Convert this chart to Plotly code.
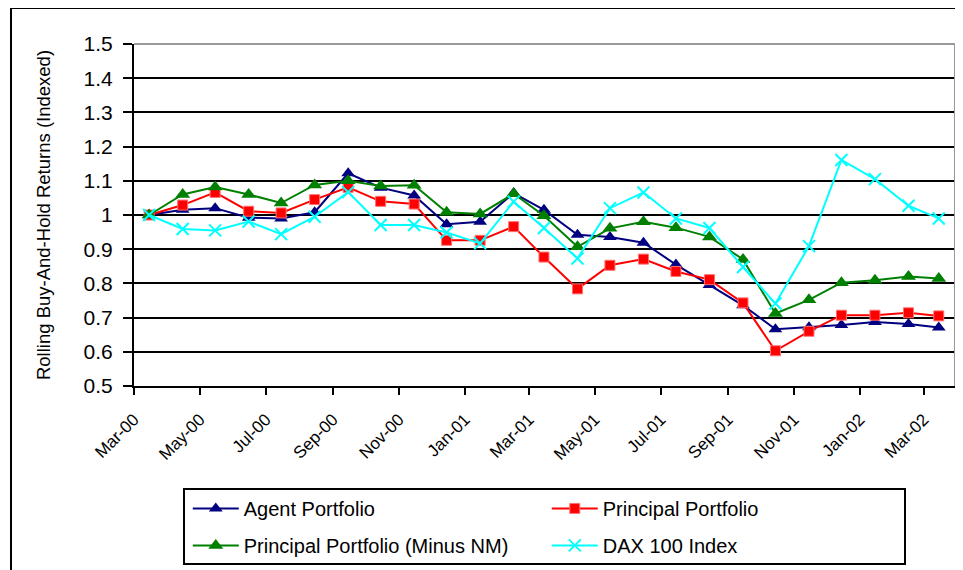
import pandas as pd
import plotly.graph_objects as go

# Monthly observations, Mar-2000 .. Mar-2002 (mid-month)
dates = pd.date_range("2000-03-01", periods=25, freq="MS") + pd.Timedelta(days=14)

agent = [1.000, 1.015, 1.020, 0.992, 0.990, 1.008, 1.122, 1.080, 1.057, 0.973,
         0.980, 1.064, 1.015, 0.942, 0.936, 0.919, 0.855, 0.795, 0.736, 0.666,
         0.672, 0.678, 0.687, 0.681, 0.671]
principal = [1.000, 1.029, 1.066, 1.011, 1.006, 1.045, 1.081, 1.040, 1.032, 0.926,
             0.926, 0.966, 0.877, 0.784, 0.853, 0.871, 0.835, 0.811, 0.743, 0.603,
             0.660, 0.707, 0.707, 0.714, 0.705]
minus_nm = [1.000, 1.060, 1.082, 1.060, 1.035, 1.088, 1.100, 1.085, 1.087, 1.008,
            1.003, 1.062, 0.998, 0.907, 0.961, 0.980, 0.963, 0.936, 0.870, 0.712,
            0.752, 0.802, 0.809, 0.820, 0.814]
dax = [1.000, 0.959, 0.955, 0.981, 0.944, 0.995, 1.067, 0.971, 0.971, 0.949,
       0.917, 1.039, 0.962, 0.873, 1.020, 1.066, 0.990, 0.962, 0.848, 0.741,
       0.909, 1.161, 1.105, 1.027, 0.990]

y_ticks = [0.5, 0.6, 0.7, 0.8, 0.9, 1.0, 1.1, 1.2, 1.3, 1.4, 1.5]
y_labels = ["0.5", "0.6", "0.7", "0.8", "0.9", "1", "1.1", "1.2", "1.3", "1.4", "1.5"]

FONT = "Liberation Sans, Arial, sans-serif"

fig = go.Figure()
# row 1 of legend
fig.add_trace(go.Scatter(x=dates, y=agent, name="Agent Portfolio", mode="lines+markers",
                         line=dict(color="#000080", width=2),
                         marker=dict(symbol="triangle-up", size=12, color="#000080"),
                         legend="legend"))
fig.add_trace(go.Scatter(x=dates, y=principal, name="Principal Portfolio", mode="lines+markers",
                         line=dict(color="#FF0000", width=2),
                         marker=dict(symbol="square", size=10, color="#FF0000",
                                     line=dict(color="#FF7070", width=1)),
                         legend="legend"))
# row 2 of legend
fig.add_trace(go.Scatter(x=dates, y=minus_nm, name="Principal Portfolio (Minus NM)",
                         mode="lines+markers", line=dict(color="#008000", width=2),
                         marker=dict(symbol="triangle-up", size=13, color="#008000"),
                         legend="legend2"))
fig.add_trace(go.Scatter(x=dates, y=dax, name="DAX 100 Index", mode="lines+markers",
                         line=dict(color="#00FFFF", width=2),
                         marker=dict(symbol="x-thin-open", size=12,
                                     line=dict(color="#00FFFF", width=2)),
                         legend="legend2"))

leg_common = dict(orientation="h", xanchor="left", yanchor="top",
                  font=dict(family=FONT, size=20, color="black"),
                  entrywidth=298, entrywidthmode="pixels", itemwidth=46,
                  bgcolor="rgba(0,0,0,0)", traceorder="normal")

# page body has an 8px margin, so the figure is sized to the visible area
fig.update_layout(
    width=955, height=562,
    margin=dict(l=126, r=8, t=36, b=184, autoexpand=False),
    paper_bgcolor="white", plot_bgcolor="white",
    font=dict(family=FONT, color="black"),
    showlegend=True,
    legend=dict(x=0.0655, y=-0.301, **leg_common),
    legend2=dict(x=0.0655, y=-0.409, **leg_common),
    shapes=[
        # outer chart frame
        dict(type="rect", xref="paper", yref="paper", x0=-0.1498, x1=1.06, y0=-0.7, y1=1.105,
             line=dict(color="black", width=2), layer="below"),
        # legend box
        dict(type="rect", xref="paper", yref="paper", x0=(184 - 134) / 821, x1=(905 - 134) / 821,
             y0=(386 - 564) / 342, y1=(386 - 489) / 342,
             line=dict(color="black", width=2), fillcolor="rgba(0,0,0,0)", layer="above"),
        # grey plot-area border (top and right)
        dict(type="line", xref="paper", yref="paper", x0=0, x1=1, y0=1, y1=1,
             line=dict(color="#999999", width=2), layer="above"),
        dict(type="line", xref="paper", yref="paper", x0=1, x1=1, y0=0, y1=1,
             line=dict(color="#999999", width=2), layer="above"),
    ],
)

fig.update_xaxes(
    type="date", range=["2000-03-01", "2002-03-30"], automargin=False,
    tick0="2000-03-01", dtick="M2", tickformat="%b-%y", tickangle=-45,
    ticks="outside", ticklen=7, tickwidth=2, tickcolor="black", ticklabelstandoff=8,
    tickfont=dict(family=FONT, size=17, color="black"),
    showgrid=False, showline=True, linecolor="black", linewidth=2, zeroline=False,
)
fig.update_yaxes(
    range=[0.5, 1.5], tickvals=y_ticks, ticktext=y_labels, automargin=False,
    ticks="outside", ticklen=9, tickwidth=2, tickcolor="black", ticklabelstandoff=6,
    tickfont=dict(family=FONT, size=21, color="black"),
    showgrid=True, gridcolor="black", gridwidth=2,
    showline=True, linecolor="black", linewidth=2, zeroline=False,
    title=dict(text="Rolling Buy-And-Hold Returns (Indexed)",
               font=dict(family=FONT, size=18.5, color="black"), standoff=28),
)

fig.write_html("out.html")
